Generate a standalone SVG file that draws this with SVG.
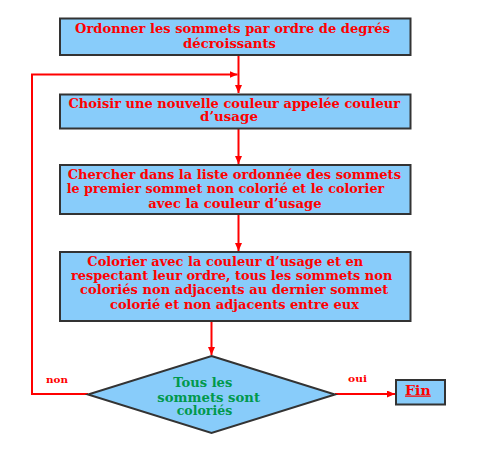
<svg xmlns="http://www.w3.org/2000/svg" width="480" height="451" viewBox="0 0 480 451">
<defs>
<marker id="ah" markerWidth="8" markerHeight="7" refX="8" refY="3.5" orient="auto" markerUnits="userSpaceOnUse">
<path d="M0,0 L8,3.5 L0,7 Z" fill="#FF0000"/>
</marker>
</defs>
<style>
.box{fill:#88CCFA;stroke:#333333;stroke-width:2}
.t{font-family:"DejaVu Serif","Liberation Serif",serif;font-weight:bold;font-size:12.5px;fill:#FF0000}
.g{font-family:"DejaVu Serif","Liberation Serif",serif;font-weight:bold;font-size:12.5px;fill:#00994C}
.lbl{font-family:"DejaVu Serif","Liberation Serif",serif;font-weight:bold;font-size:9px;fill:#FF0000}
.c{fill:none;stroke:#FF0000;stroke-width:2}
</style>
<rect width="480" height="451" fill="#FFFFFF"/>
<g id="connectors">
<path class="c" d="M238.5,55 V93" marker-end="url(#ah)"/>
<path class="c" d="M88,394 H32 V74.5 H237.5" marker-end="url(#ah)"/>
<path class="c" d="M238.5,129 V164" marker-end="url(#ah)"/>
<path class="c" d="M238.5,214 V251" marker-end="url(#ah)"/>
<path class="c" d="M211.5,321 V355" marker-end="url(#ah)"/>
<path class="c" d="M335,394 H395" marker-end="url(#ah)"/>
<text class="lbl" x="46" y="383" textLength="22" lengthAdjust="spacingAndGlyphs">non</text>
<text class="lbl" x="348" y="382" textLength="19" lengthAdjust="spacingAndGlyphs">oui</text>
</g>
<g id="n1">
<rect class="box" x="60" y="18.5" width="350.5" height="36.5"/>
<text class="t" x="75" y="32.5" textLength="315" lengthAdjust="spacingAndGlyphs">Ordonner les sommets par ordre de degrés</text>
<text class="t" x="183" y="48" textLength="93" lengthAdjust="spacingAndGlyphs">décroissants</text>
</g>
<g id="n2">
<rect class="box" x="60" y="94.5" width="350.5" height="34"/>
<text class="t" x="68.5" y="107.5" textLength="331.5" lengthAdjust="spacingAndGlyphs">Choisir une nouvelle couleur appelée couleur</text>
<text class="t" x="200" y="121" textLength="58" lengthAdjust="spacingAndGlyphs">d’usage</text>
</g>
<g id="n3">
<rect class="box" x="60" y="165" width="350.5" height="49"/>
<text class="t" x="67.7" y="179" textLength="333.3" lengthAdjust="spacingAndGlyphs">Chercher dans la liste ordonnée des sommets</text>
<text class="t" x="66.7" y="193" textLength="317.6" lengthAdjust="spacingAndGlyphs">le premier sommet non colorié et le colorier</text>
<text class="t" x="148.3" y="208" textLength="173.4" lengthAdjust="spacingAndGlyphs">avec la couleur d’usage</text>
</g>
<g id="n4">
<rect class="box" x="60" y="252" width="350.5" height="69"/>
<text class="t" x="87.3" y="265.5" textLength="276" lengthAdjust="spacingAndGlyphs">Colorier avec la couleur d’usage et en</text>
<text class="t" x="71" y="280" textLength="321.3" lengthAdjust="spacingAndGlyphs">respectant leur ordre, tous les sommets non</text>
<text class="t" x="80" y="294" textLength="308.3" lengthAdjust="spacingAndGlyphs">coloriés non adjacents au dernier sommet</text>
<text class="t" x="110" y="308.5" textLength="249" lengthAdjust="spacingAndGlyphs">colorié et non adjacents entre eux</text>
</g>
<g id="n5">
<polygon class="box" points="211.5,356 335,394.5 211.5,433 88,394.5"/>
<text class="g" x="173.3" y="387" textLength="59" lengthAdjust="spacingAndGlyphs">Tous les</text>
<text class="g" x="157.3" y="401.5" textLength="102.7" lengthAdjust="spacingAndGlyphs">sommets sont</text>
<text class="g" x="176.7" y="415" textLength="55.6" lengthAdjust="spacingAndGlyphs">coloriés</text>
</g>
<g id="n6">
<rect class="box" x="396" y="380" width="49" height="24.5"/>
<text class="t" x="405" y="394.5" textLength="25.7" lengthAdjust="spacingAndGlyphs" text-decoration="underline">Fin</text>
</g>
</svg>
